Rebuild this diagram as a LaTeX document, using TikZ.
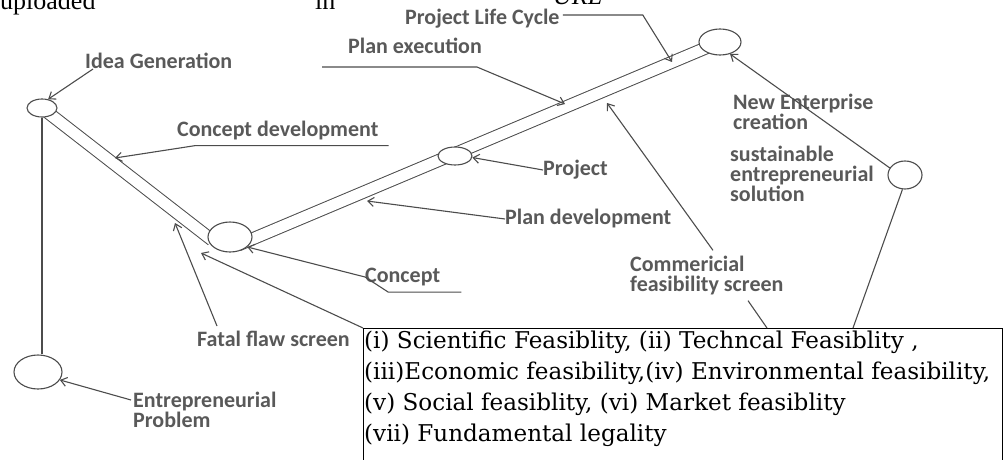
\documentclass[tikz,border=0pt]{standalone}
\usepackage{fontspec}
\setmainfont{Liberation Serif}
\newfontfamily\lblfont{Carlito}
\newfontfamily\critfont{DejaVu Serif}
\usetikzlibrary{arrows.meta, positioning, shapes.geometric}

\begin{document}
\begin{tikzpicture}[x=1pt, y=-1pt,
  lbl/.style={font=\lblfont\bfseries\fontsize{22}{20}\selectfont, text=black!65, inner sep=0pt, anchor=west, align=left},
  ring/.style={ellipse, draw=black!70, line width=1.1pt, fill=white, inner sep=0pt},
  tube/.style={draw=black!70, line width=1pt, double=white, double distance=11pt},
  link/.style={draw=black!70, line width=1.1pt},
  pointer/.style={link, -{Straight Barb[length=6pt,width=9pt]}},
  critrow/.style={font=\critfont\fontsize{23.1}{23.1}\selectfont, inner sep=0pt, anchor=base west},
  cutoff/.style={font=\fontsize{26}{26}\selectfont, inner sep=0pt, anchor=base west}]
\useasboundingbox (0,0) rectangle (1005,460);

% text cut off at the top edge
\node (upl) [cutoff] at (0,10) {uploaded};
\node (inw) [cutoff] at (315,10) {in};
\node (url) [cutoff] at (553,5) {\textit{URL}};

% stages
\coordinate (ideaC) at (42,108);
\coordinate (probC) at (38,372);
\coordinate (concC) at (230,237);
\coordinate (projC) at (455,156);
\coordinate (cycC) at (720,42);
\coordinate (sustC) at (905,175);
\coordinate (bandA) at (212,240);
\coordinate (bandB) at (238,245);

\draw[tube] (ideaC) -- (bandA);
\draw[tube] (bandB) -- (cycC);

\node (idea) [ring, minimum width=30pt, minimum height=18pt] at (ideaC) {};
\node (prob) [ring, minimum width=48pt, minimum height=34pt] at (probC) {};
\node (concept) [ring, minimum width=44pt, minimum height=30pt] at (concC) {};
\node (project) [ring, minimum width=34pt, minimum height=18pt] at (projC) {};
\node (cycle) [ring, minimum width=42pt, minimum height=26pt] at (cycC) {};
\node (sust) [ring, minimum width=34pt, minimum height=28pt] at (sustC) {};

\draw[link] (idea.south) -- (idea.south |- prob.north);

% labels
\node (ideaLbl) [lbl] at (85,61) {Idea Generation};
\node (cdevLbl) [lbl] at (177,131) {Concept development};
\node (pexLbl) [lbl] at (348,46) {Plan execution};
\node (plcLbl) [lbl] at (405,19) {Project Life Cycle};
\node (neLbl) [lbl] at (733,112) {New Enterprise\\creation};
\node (solLbl) [lbl] at (730,174) {sustainable\\entrepreneurial\\solution};
\node (projLbl) [lbl] at (543,170) {Project};
\node (pdevLbl) [lbl] at (505,219) {Plan development};
\node (concLbl) [lbl] at (365,277) {Concept};
\node (comLbl) [lbl] at (630,276) {Commericial\\feasibility screen};
\node (flawLbl) [lbl] at (197,339) {Fatal flaw screen};
\node (probLbl) [lbl] at (133,410) {Entrepreneurial\\Problem};

% feasibility box
\node (crit) [draw, line width=1.2pt, minimum width=639pt, minimum height=150pt, anchor=north west, inner sep=0pt] at (363,328) {};
\foreach \txt [count=\i from 0] in {{(i) Scientific Feasiblity, (ii) Techncal Feasiblity ,},
    {(iii)Economic feasibility,(iv) Environmental feasibility,},
    {(v) Social feasiblity, (vi) Market feasiblity},
    {(vii) Fundamental legality}}
  \node (row\i) [critrow] at (364,348+31*\i) {\txt};

% pointers
\coordinate (cdevPt) at (115,158);
\coordinate (flawPt) at (175,223);
\coordinate (pexPt) at (565,104);
\coordinate (plcPt) at (672,62);
\coordinate (pdevPt) at (367,201);
\coordinate (comPt) at (607,103);
\coordinate (critTip) at (201,253);

\draw[pointer] ([xshift=8pt]ideaLbl.south west) -- (idea.55);
\draw[pointer] ([xshift=10pt,yshift=-5pt]cdevLbl.south east) -- ([xshift=18pt,yshift=-5pt]cdevLbl.south west) -- (cdevPt);
\draw[pointer] ([xshift=-26pt,yshift=-13pt]pexLbl.south west) -- ++(155,0) -- (pexPt);
\draw[pointer] ([xshift=3pt,yshift=4pt]plcLbl.east) -- ++(80,0) -- (plcPt);
\draw[pointer] (projLbl.west) -- (project.-5);
\draw[pointer] (pdevLbl.west) -- (pdevPt);
\draw[pointer] ([xshift=21pt,yshift=-6pt]concLbl.south east) -- ++(-73,0) -- (concLbl.west) -- (concept.-30);
\draw[pointer] ([xshift=20pt,yshift=5pt]flawLbl.north west) -- (flawPt);
\draw[pointer] (crit.north west) -- (critTip);
\draw[pointer] ([xshift=-2pt,yshift=10pt]probLbl.west) -- (prob.-20);
\draw[pointer] ([xshift=83pt,yshift=6pt]comLbl.north west) -- (comPt);
\draw[link] ([xshift=118pt,yshift=-5pt]comLbl.south west) -- ([xshift=404pt]crit.north west);
\draw[pointer] (sust.155) -- (cycle.-50);
\draw[link] (sust.-100) -- ([xshift=490pt]crit.north west);
\end{tikzpicture}
\end{document}
